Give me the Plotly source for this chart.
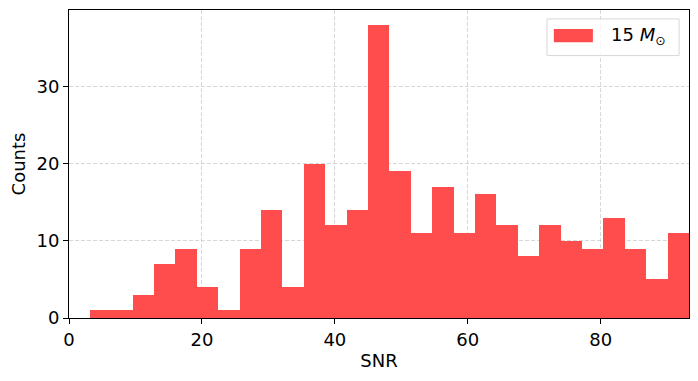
import plotly.graph_objects as go

# Histogram data
bin_start = 3.12
bin_width = 3.22
counts = [1, 1, 3, 7, 9, 4, 1, 9, 14, 4, 20, 12, 14, 38, 19, 11, 17, 11, 16, 12, 8, 12, 10, 9, 13, 9, 5, 11]
series_name = "15 <i>M</i><sub>⊙</sub>"
x_ticks = [0, 20, 40, 60, 80]
y_ticks = [0, 10, 20, 30]

centers = [bin_start + bin_width * (i + 0.5) for i in range(len(counts))]
x_max = bin_start + bin_width * len(counts)

RED = "rgb(255,77,77)"
FONT = "DejaVu Sans"
FS = 18

fig = go.Figure()
fig.add_trace(go.Bar(
    x=centers, y=counts, width=bin_width,
    marker=dict(color=RED, line=dict(width=0)),
    name=series_name, showlegend=False,
))

axis_common = dict(
    showline=True, linecolor="black", linewidth=1.1, mirror=True,
    ticks="outside", ticklen=5, tickwidth=1.1, tickcolor="black",
    showgrid=True, gridcolor="rgba(190,190,190,0.6)", griddash="4px,2px", gridwidth=1,
    zeroline=False, layer="below traces",
    tickfont=dict(family=FONT, size=FS, color="black"),
)

fig.update_xaxes(range=[0, x_max], tickvals=x_ticks,
                 title=dict(text="SNR", font=dict(family=FONT, size=FS, color="black"), standoff=5),
                 **axis_common)
fig.update_yaxes(range=[0, max(counts) * 1.05], tickvals=y_ticks,
                 title=dict(text="Counts", font=dict(family=FONT, size=FS, color="black"), standoff=6),
                 **axis_common)

# Manual matplotlib-style legend
bx0, bx1, by0, by1 = 0.771, 0.984, 0.852, 0.971
fig.add_shape(type="rect", xref="paper", yref="paper", x0=bx0, x1=bx1, y0=by0, y1=by1,
              fillcolor="rgba(255,255,255,0.8)", line=dict(color="rgb(215,215,215)", width=1))
fig.add_shape(type="rect", xref="paper", yref="paper", x0=0.782, x1=0.845, y0=0.895, y1=0.938,
              fillcolor=RED, line=dict(width=0))
fig.add_annotation(xref="paper", yref="paper", x=0.871, y=0.917, text=series_name,
                   showarrow=False, xanchor="left", yanchor="middle",
                   font=dict(family=FONT, size=FS, color="black"))

fig.update_layout(
    width=698, height=381,
    margin=dict(l=69, r=9, t=10, b=63),
    plot_bgcolor="white", paper_bgcolor="white",
    bargap=0,
    showlegend=False,
)

fig.write_html("out.html")
